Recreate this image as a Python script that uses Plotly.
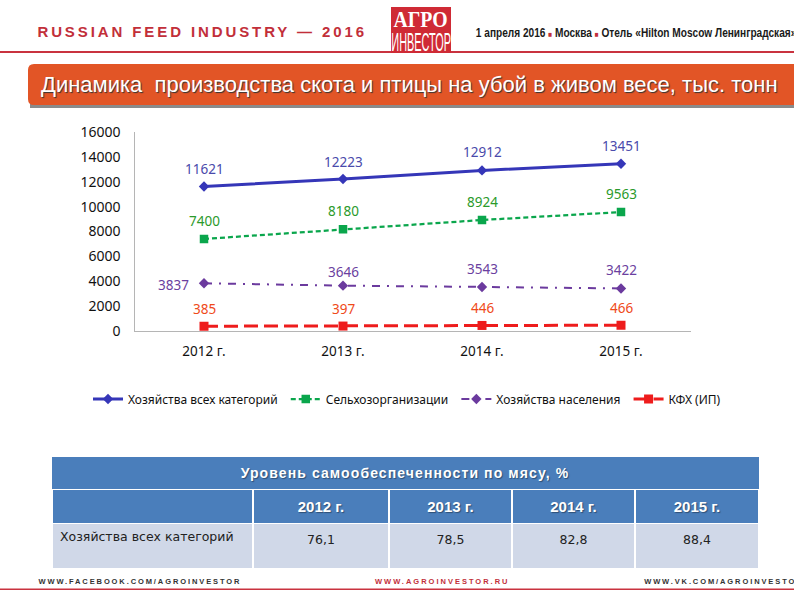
import plotly.graph_objects as go

W, H = 794, 595

# ---------- data ----------
years = ["2012 г.", "2013 г.", "2014 г.", "2015 г."]
all_farms = [11621, 12223, 12912, 13451]
agri_orgs = [7400, 8180, 8924, 9563]
households = [3837, 3646, 3543, 3422]
kfh = [385, 397, 446, 466]
series_names = ["Хозяйства всех категорий", "Сельхозорганизации", "Хозяйства населения", "КФХ (ИП)"]
table_title = "Уровень самообеспеченности по мясу, %"
table_row = "Хозяйства всех категорий"
self_sufficiency = ["76,1", "78,5", "82,8", "88,4"]
chart_title = "Динамика  производства скота и птицы на убой в живом весе, тыс. тонн"


def px(x):
    return x / W


def py(y):
    return 1 - y / H


fig = go.Figure()
styles = [
    (all_farms, "#3536b8", "solid", 3, "diamond", 8, "#4a4aab"),
    (agri_orgs, "#0aa64c", "5px,3px", 2.25, "square", 8.5, "#2b9a2b"),
    (households, "#6b3a9e", "8px,7px,2px,7px", 2, "diamond", 8, "#6b3fa0"),
    (kfh, "#ee1c1c", "14px,6px", 3, "square", 9, "#ef4a1a"),
]
for name, (vals, col, dash, lw, sym, ms, _) in zip(series_names, styles):
    fig.add_trace(go.Scatter(
        x=years, y=vals, name=name + "\u00a0", mode="lines+markers",
        line=dict(color=col, dash=dash, width=lw),
        marker=dict(color=col, symbol=sym, size=ms),
    ))

# data labels: pixel offsets (dx, dy) from each point
offsets = [
    [(0, -17), (0, -17), (0, -18), (0, -18)],
    [(0, -18), (0, -18), (0, -18), (0, -18)],
    [(-31, 2), (0, -14), (0, -18), (0, -18)],
    [(0, -17), (0, -17), (0, -17), (0, -17)],
]
annotations = []
for (vals, *_rest), offs in zip(styles, offsets):
    tcol = _rest[-1]
    for yr, v, (dx, dy) in zip(years, vals, offs):
        annotations.append(dict(
            x=yr, y=v, xref="x", yref="y", text=str(v), showarrow=False,
            xshift=dx, yshift=-dy,
            font=dict(family="Noto Sans", size=13.5, color=tcol),
        ))

css_rules = []


def note(x, y, text, size, color, family="Liberation Sans", bold=False, shadow=None, spacing=None, scale=None, origin="center"):
    font = dict(family=family, size=size, color=color)
    if bold:
        font["weight"] = "bold"
    if shadow:
        font["shadow"] = shadow
    idx = len(annotations)
    annotations.append(dict(
        x=px(x), y=py(y), xref="paper", yref="paper", text=text, showarrow=False,
        xanchor="center", yanchor="middle", font=font,
    ))
    rule = ""
    if spacing is not None:
        rule += f"letter-spacing:{spacing}px;"
    if scale is not None:
        rule += f"transform:scaleX({scale});transform-box:fill-box;transform-origin:{origin} center;"
    if rule:
        css_rules.append(f".annotation[data-index='{idx}'] text{{{rule}}}")


RED = "#c22f3a"
SQ = "<span style='color:#c22f3a;font-size:8px'>■</span>"
note(201.5, 31, "RUSSIAN FEED INDUSTRY — 2016", 15, RED, bold=True, spacing=2.9)
note(140, 581, "WWW.FACEBOOK.COM/AGROINVESTOR", 7.5, "#333333", bold=True, spacing=1.9)
note(442.5, 581, "WWW.AGROINVESTOR.RU", 7.5, RED, bold=True, spacing=2.0)
note(724, 581, "WWW.VK.COM/AGROINVESTOR", 7.5, "#333333", bold=True, spacing=1.9)
note(636, 33, f"1 апреля 2016 {SQ} Москва {SQ} Отель «Hilton Moscow Ленинградская»",
     12.5, "#1a1a1a", bold=True, scale=0.81)
note(421, 20, "АГРО", 23, "white", family="Liberation Serif", bold=True, scale=0.86)
note(421, 42, "ИНВЕСТОР", 26, "white", scale=0.42)
note(410, 85, chart_title, 22, "white", shadow="1px 1px 1px #333333")
note(405.5, 473, table_title, 14, "white", bold=True, shadow="1px 1px 1px #2f4f75", spacing=1.1)


def rect(x0, y0, x1, y1, color, **kw):
    return dict(type="rect", xref="paper", yref="paper", x0=px(x0), x1=px(x1), y0=py(y0), y1=py(y1),
                fillcolor=color, line=dict(width=0), layer="below", **kw)


shapes = [
    rect(0, 51, 794, 53, "#c9323f"),
    rect(0, 588.5, 794, 590, "#c9323f"),
    rect(391, 7, 451, 53, "#cf2a35"),
    rect(30, 67, 794, 108, "#8a8a8a"),
    dict(type="path", xref="paper", yref="paper", fillcolor="#e25526", line=dict(width=0), layer="below",
         path=(f"M {px(28)} {py(70)} Q {px(28)} {py(64)} {px(34)} {py(64)} "
               f"L {px(794)} {py(64)} L {px(794)} {py(105)} L {px(34)} {py(105)} "
               f"Q {px(28)} {py(105)} {px(28)} {py(99)} Z")),
    rect(52, 457, 759, 490, "#4a7ebb"),
]

# table below the merged title band
fig.add_trace(go.Table(
    domain=dict(x=[px(52), px(759)], y=[py(570), py(489.5)]),
    columnwidth=[201, 136, 123, 123, 124],
    header=dict(
        values=[""] + [f"<b>{y}</b>" for y in years],
        height=34,
        fill_color="#4a7ebb",
        line=dict(color="white", width=1.5),
        align="center",
        font=dict(family="Liberation Sans", size=15, color="white", shadow="1px 1px 1px #2f4f75"),
    ),
    cells=dict(
        values=[[table_row]] + [[f"<br>{v}"] for v in self_sufficiency],
        height=45,
        fill_color="#d0d8e8",
        line=dict(color="white", width=1.5),
        align=["left", "center", "center", "center", "center"],
        font=dict(family="DejaVu Sans", size=12.5, color="#222222"),
    ),
))

fig.update_layout(
    width=W, height=H, autosize=False,
    margin=dict(l=0, r=0, t=0, b=0, autoexpand=False),
    paper_bgcolor="white", plot_bgcolor="white",
    shapes=shapes, annotations=annotations,
    font=dict(family="Noto Sans", size=12.5, color="#111111"),
    xaxis=dict(domain=[px(134.5), px(690.5)], type="category", range=[-0.5, 3.5],
               showgrid=False, showline=True, linecolor="#b5b5b5", linewidth=1.2,
               ticks="", ticklabelstandoff=8,
               tickfont=dict(family="Noto Sans", size=13.5, color="#111111")),
    yaxis=dict(domain=[py(331), py(132)], range=[0, 16000], dtick=2000, tickformat="d",
               showgrid=False, showline=True, linecolor="#b5b5b5", linewidth=1.2,
               ticks="", zeroline=False, ticklabelstandoff=10,
               tickfont=dict(family="Noto Sans", size=14, color="#111111")),
    legend=dict(orientation="h", x=px(88), y=py(399), xanchor="left", yanchor="middle",
                font=dict(family="Noto Sans", size=12, color="#111111"),
                itemwidth=30, bgcolor="rgba(0,0,0,0)"),
)

post = ("var s=document.createElement('style');s.textContent=\"html,body{margin:0;padding:0;overflow:hidden}"
        + "".join(css_rules) + "\";document.head.appendChild(s);")
fig.write_html("out.html", post_script=post, config={"displayModeBar": False})
